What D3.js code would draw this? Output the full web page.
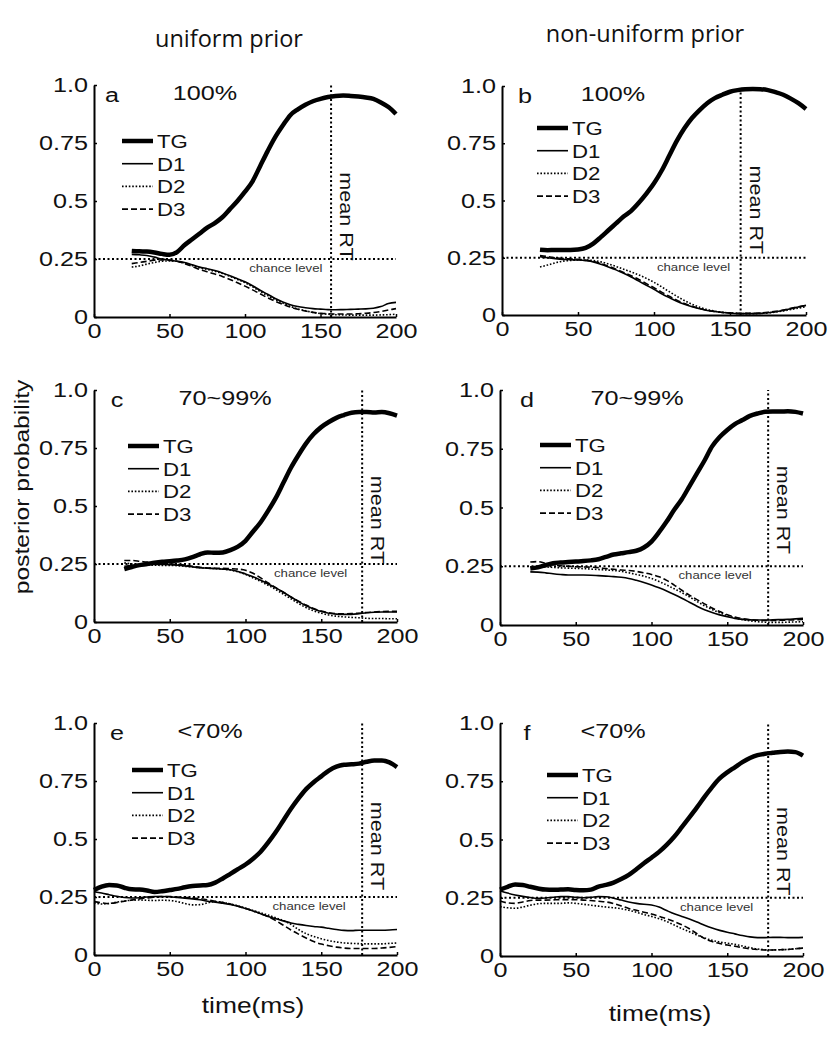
<!DOCTYPE html>
<html><head><meta charset="utf-8">
<script src="https://cdn.jsdelivr.net/npm/d3@7/dist/d3.min.js"></script>
<style>body{margin:0;background:#fff} svg{display:block}</style>
</head><body><svg id="chart" width="837" height="1050"></svg>
<script>
// ---------- data ----------
const timeFrom25 = [25,30,35,40,45,50,55,60,65,70,75,80,85,90,95,100,105,110,115,120,125,130,135,140,145,150,155,160,165,170,175,180,185,190,195,200];
const timeFrom20 = [20,25,30,35,40,45,50,55,60,65,70,75,80,85,90,95,100,105,110,115,120,125,130,135,140,145,150,155,160,165,170,175,180,185,190,195,200];
const timeFrom0  = [0,5,10,15,20,25,30,35,40,45,50,55,60,65,70,75,80,85,90,95,100,105,110,115,120,125,130,135,140,145,150,155,160,165,170,175,180,185,190,195,200];

const seriesNames = ["TG","D1","D2","D3"];
const panelLetters = ["a","b","c","d","e","f"];
const accuracyLabels = ["100%","100%","70~99%","70~99%","<70%","<70%"];
const columnTitles = ["uniform prior","non-uniform prior"];
const meanRT = [157,157,177,177,177,177];
const chanceLevel = 0.25;
const xTicks = [0,50,100,150,200];
const yTicks = [0,0.25,0.5,0.75,1.0];
const yTickLabels = ["0","0.25","0.5","0.75","1.0"];
const yAxisTitle = "posterior probability";
const xAxisTitle = "time(ms)";

// panel a (uniform prior, 100%)
const tgA = [0.285,0.283,0.282,0.278,0.272,0.268,0.28,0.31,0.335,0.36,0.385,0.405,0.43,0.465,0.5,0.54,0.585,0.65,0.715,0.775,0.825,0.87,0.895,0.915,0.93,0.94,0.948,0.953,0.955,0.953,0.95,0.946,0.94,0.925,0.905,0.875];
const d1A = [0.27,0.268,0.265,0.258,0.25,0.245,0.24,0.235,0.225,0.215,0.208,0.2,0.19,0.178,0.165,0.152,0.135,0.115,0.098,0.08,0.065,0.053,0.045,0.04,0.036,0.034,0.032,0.031,0.032,0.033,0.034,0.035,0.038,0.045,0.058,0.063];
const d2A = [0.215,0.22,0.228,0.235,0.24,0.242,0.24,0.232,0.222,0.212,0.205,0.197,0.188,0.175,0.162,0.148,0.13,0.11,0.092,0.075,0.06,0.046,0.035,0.027,0.02,0.015,0.012,0.01,0.009,0.008,0.008,0.008,0.008,0.009,0.01,0.012];
const d3A = [0.23,0.235,0.24,0.245,0.246,0.245,0.24,0.23,0.218,0.205,0.195,0.185,0.175,0.162,0.148,0.133,0.117,0.1,0.083,0.068,0.055,0.043,0.033,0.026,0.02,0.016,0.014,0.013,0.013,0.013,0.014,0.016,0.019,0.024,0.03,0.036];
// panel b (non-uniform prior, 100%)
const tgB = [0.285,0.283,0.284,0.284,0.284,0.286,0.293,0.312,0.34,0.37,0.4,0.43,0.455,0.49,0.53,0.575,0.63,0.695,0.76,0.815,0.86,0.895,0.925,0.947,0.962,0.975,0.982,0.986,0.987,0.986,0.982,0.973,0.962,0.945,0.925,0.9];
const d1B = [0.255,0.25,0.246,0.243,0.242,0.24,0.237,0.232,0.222,0.21,0.197,0.182,0.166,0.148,0.13,0.112,0.093,0.076,0.06,0.047,0.036,0.027,0.02,0.015,0.011,0.008,0.006,0.006,0.006,0.007,0.01,0.014,0.02,0.027,0.035,0.042];
const d2B = [0.21,0.218,0.228,0.235,0.238,0.24,0.24,0.238,0.232,0.223,0.212,0.2,0.188,0.175,0.16,0.143,0.123,0.102,0.082,0.063,0.047,0.034,0.024,0.017,0.012,0.009,0.007,0.006,0.006,0.007,0.009,0.013,0.018,0.024,0.03,0.036];
const d3B = [0.26,0.255,0.25,0.247,0.245,0.243,0.24,0.234,0.225,0.213,0.2,0.186,0.171,0.155,0.137,0.119,0.1,0.082,0.065,0.05,0.038,0.028,0.02,0.015,0.011,0.009,0.007,0.007,0.007,0.009,0.012,0.016,0.022,0.029,0.036,0.042];
// panel c (uniform prior, 70~99%)
const tgC = [0.228,0.237,0.245,0.25,0.256,0.26,0.262,0.265,0.27,0.28,0.292,0.3,0.298,0.3,0.31,0.325,0.35,0.39,0.43,0.48,0.535,0.6,0.665,0.72,0.77,0.81,0.84,0.862,0.88,0.892,0.902,0.905,0.905,0.903,0.905,0.9,0.89];
const d1C = [0.24,0.243,0.245,0.247,0.248,0.248,0.247,0.245,0.242,0.238,0.234,0.232,0.23,0.228,0.225,0.218,0.207,0.195,0.18,0.164,0.147,0.128,0.108,0.088,0.07,0.056,0.045,0.038,0.034,0.033,0.033,0.036,0.04,0.042,0.043,0.043,0.043];
const d2C = [0.255,0.25,0.247,0.245,0.245,0.244,0.244,0.243,0.24,0.237,0.234,0.232,0.23,0.228,0.224,0.216,0.205,0.19,0.175,0.158,0.14,0.12,0.1,0.08,0.062,0.048,0.038,0.03,0.025,0.022,0.02,0.018,0.016,0.015,0.015,0.014,0.014];
const d3C = [0.265,0.265,0.262,0.258,0.255,0.252,0.25,0.248,0.245,0.24,0.236,0.233,0.232,0.232,0.23,0.228,0.223,0.21,0.19,0.168,0.148,0.128,0.108,0.09,0.073,0.058,0.047,0.04,0.036,0.035,0.036,0.038,0.041,0.043,0.045,0.046,0.046];
// panel d (non-uniform prior, 70~99%)
const tgD = [0.24,0.245,0.255,0.263,0.266,0.268,0.27,0.272,0.275,0.28,0.29,0.3,0.305,0.31,0.316,0.33,0.355,0.395,0.44,0.49,0.535,0.59,0.645,0.7,0.76,0.8,0.83,0.855,0.872,0.89,0.9,0.907,0.908,0.908,0.91,0.907,0.9];
const d1D = [0.226,0.225,0.222,0.218,0.215,0.213,0.213,0.213,0.212,0.21,0.208,0.206,0.203,0.198,0.19,0.181,0.17,0.158,0.145,0.13,0.114,0.097,0.08,0.065,0.053,0.043,0.035,0.028,0.024,0.022,0.021,0.021,0.022,0.023,0.024,0.026,0.028];
const d2D = [0.248,0.248,0.247,0.245,0.243,0.242,0.241,0.24,0.238,0.236,0.234,0.232,0.228,0.222,0.215,0.208,0.198,0.185,0.17,0.154,0.138,0.12,0.1,0.082,0.066,0.052,0.04,0.03,0.023,0.018,0.014,0.012,0.011,0.011,0.012,0.013,0.014];
const d3D = [0.268,0.27,0.262,0.256,0.252,0.25,0.248,0.247,0.246,0.244,0.24,0.237,0.234,0.232,0.228,0.222,0.215,0.205,0.19,0.17,0.148,0.127,0.108,0.09,0.072,0.057,0.044,0.034,0.027,0.023,0.02,0.019,0.019,0.02,0.021,0.022,0.024];
// panel e (uniform prior, <70%)
const tgE = [0.28,0.295,0.302,0.3,0.29,0.283,0.282,0.278,0.272,0.275,0.28,0.285,0.292,0.297,0.3,0.302,0.312,0.33,0.35,0.37,0.39,0.415,0.445,0.485,0.53,0.58,0.63,0.675,0.715,0.745,0.77,0.795,0.812,0.82,0.822,0.825,0.833,0.838,0.838,0.83,0.81];
const d1E = [0.273,0.267,0.26,0.253,0.248,0.246,0.247,0.25,0.252,0.252,0.251,0.248,0.245,0.242,0.238,0.232,0.228,0.223,0.218,0.21,0.2,0.19,0.178,0.166,0.156,0.147,0.138,0.132,0.127,0.123,0.12,0.115,0.11,0.106,0.105,0.107,0.107,0.107,0.107,0.108,0.11];
const d2E = [0.225,0.22,0.222,0.228,0.233,0.236,0.237,0.236,0.235,0.236,0.235,0.23,0.222,0.216,0.217,0.225,0.23,0.227,0.22,0.212,0.202,0.192,0.182,0.172,0.16,0.148,0.132,0.11,0.092,0.08,0.07,0.062,0.056,0.052,0.05,0.049,0.048,0.048,0.048,0.05,0.052];
const d3E = [0.23,0.225,0.222,0.226,0.232,0.237,0.242,0.246,0.25,0.252,0.252,0.25,0.248,0.246,0.243,0.238,0.232,0.226,0.22,0.21,0.2,0.19,0.178,0.165,0.148,0.128,0.108,0.09,0.073,0.058,0.047,0.04,0.034,0.03,0.028,0.028,0.028,0.028,0.03,0.033,0.036];
// panel f (non-uniform prior, <70%)
const tgF = [0.285,0.297,0.307,0.305,0.297,0.29,0.285,0.284,0.285,0.286,0.283,0.282,0.285,0.298,0.305,0.315,0.33,0.348,0.372,0.398,0.422,0.447,0.477,0.512,0.553,0.595,0.638,0.683,0.725,0.762,0.788,0.81,0.832,0.85,0.862,0.868,0.872,0.876,0.878,0.875,0.86];
const d1F = [0.28,0.27,0.262,0.256,0.251,0.248,0.249,0.252,0.255,0.255,0.252,0.25,0.252,0.255,0.254,0.248,0.24,0.232,0.226,0.222,0.219,0.21,0.195,0.181,0.17,0.159,0.146,0.132,0.12,0.11,0.102,0.095,0.088,0.082,0.079,0.079,0.08,0.08,0.079,0.079,0.08];
const d2F = [0.212,0.207,0.205,0.21,0.218,0.224,0.226,0.226,0.226,0.228,0.226,0.222,0.218,0.214,0.21,0.207,0.203,0.196,0.188,0.178,0.17,0.16,0.148,0.133,0.118,0.104,0.09,0.077,0.067,0.06,0.055,0.05,0.043,0.036,0.03,0.027,0.026,0.027,0.028,0.031,0.034];
const d3F = [0.236,0.228,0.226,0.232,0.238,0.24,0.24,0.241,0.242,0.242,0.242,0.24,0.238,0.235,0.232,0.225,0.215,0.204,0.196,0.188,0.18,0.17,0.16,0.148,0.134,0.117,0.096,0.075,0.062,0.054,0.047,0.042,0.036,0.031,0.028,0.026,0.026,0.027,0.028,0.031,0.034];

const panelTimes = [timeFrom25, timeFrom25, timeFrom20, timeFrom20, timeFrom0, timeFrom0];
const panelSeries = [[tgA,d1A,d2A,d3A],[tgB,d1B,d2B,d3B],[tgC,d1C,d2C,d3C],[tgD,d1D,d2D,d3D],[tgE,d1E,d2E,d3E],[tgF,d1F,d2F,d3F]];
const chanceLabelTime = [127,126,143,142,142,143];

// ---------- layout (pixels) ----------
const layout = [
  {x0:94,  x1:396, y0:317, y1:85,  letterDx:18, pctDx:111, legDx:28, legDy:56, mrtV:0.433},
  {x0:502, x1:806, y0:315, y1:86,  letterDx:23, pctDx:111, legDx:35, legDy:42, mrtV:0.46},
  {x0:94,  x1:397, y0:622, y1:390, letterDx:23, pctDx:131, legDx:34, legDy:56, mrtV:0.44},
  {x0:500, x1:803, y0:625, y1:390, letterDx:27, pctDx:137, legDx:40, legDy:55, mrtV:0.49},
  {x0:94,  x1:397, y0:955, y1:723, letterDx:23, pctDx:116, legDx:38, legDy:47, mrtV:0.47},
  {x0:500, x1:803, y0:956, y1:723, letterDx:27, pctDx:113, legDx:47, legDy:52, mrtV:0.45}
];
const seriesStyle = [
  {w:4.5, dash:null},
  {w:1.6, dash:null},
  {w:1.6, dash:"1.6,1.8"},
  {w:1.6, dash:"6,3"}
];
const FONT = "'Liberation Sans', Arial, sans-serif";
const SX = 1.2; // the original lettering is wider than Arial

const svg = d3.select("#chart");

function label(parent, x, y, str, size, anchor, rot, family, sx) {
  const r = rot ? ` rotate(${rot})` : "";
  return parent.append("text")
    .attr("transform", `translate(${x},${y})${r} scale(${sx === undefined ? SX : sx},1)`)
    .attr("text-anchor", anchor || "start")
    .attr("font-family", family || FONT).attr("font-size", size).attr("fill", "#111").text(str);
}

panelLetters.forEach((letter, i) => {
  const L = layout[i];
  const x = d3.scaleLinear().domain([0,200]).range([L.x0, L.x1]);
  const y = d3.scaleLinear().domain([0,1]).range([L.y0, L.y1]);
  const g = svg.append("g");

  // axes
  const xAxis = d3.axisBottom(x).tickValues(xTicks).tickFormat(d3.format("d"))
    .tickSizeInner(-3).tickSizeOuter(0).tickPadding(6);
  const yAxis = d3.axisLeft(y).tickValues(yTicks).tickFormat((d,k) => yTickLabels[k])
    .tickSizeInner(-3).tickSizeOuter(0).tickPadding(6);
  const gx = g.append("g").attr("transform", `translate(0,${L.y0})`).call(xAxis);
  const gy = g.append("g").attr("transform", `translate(${L.x0},0)`).call(yAxis);
  [gx, gy].forEach(a => {
    a.select(".domain").attr("stroke","#000").attr("stroke-width",2);
    a.selectAll(".tick line").attr("stroke","#000").attr("stroke-width",1.5);
    a.selectAll("text").attr("font-family",FONT).attr("font-size",21).attr("fill","#111")
      .attr("transform", `scale(${SX},1)`);
  });
  gy.selectAll("text").attr("x", -6 / SX);

  // reference lines
  g.append("line").attr("x1",x(0)).attr("x2",x(200)).attr("y1",y(chanceLevel)).attr("y2",y(chanceLevel))
    .attr("stroke","#000").attr("stroke-width",2).attr("stroke-dasharray","2,2.5");
  g.append("line").attr("x1",x(meanRT[i])).attr("x2",x(meanRT[i])).attr("y1",y(0)).attr("y2",y(1))
    .attr("stroke","#000").attr("stroke-width",2).attr("stroke-dasharray","2,2.5");

  // series
  const times = panelTimes[i];
  const line = d3.line().x(d => x(d[0])).y(d => y(d[1])).curve(d3.curveMonotoneX);
  [3,2,1,0].forEach(s => {
    const vals = panelSeries[i][s];
    const pts = times.map((t,k) => [t, vals[k]]);
    const p = g.append("path").datum(pts).attr("d", line).attr("fill","none")
      .attr("stroke","#000").attr("stroke-width", seriesStyle[s].w)
      .attr("stroke-linejoin","round");
    if (seriesStyle[s].dash) p.attr("stroke-dasharray", seriesStyle[s].dash);
  });

  // labels
  label(g, L.x0 + L.letterDx, y(1) + 17, letter, 21, "middle");
  label(g, L.x0 + L.pctDx, y(1) + 15, accuracyLabels[i], 21, "middle");
  label(g, x(meanRT[i]) + 9, y(L.mrtV), "mean RT", 18, "middle", 90);
  const cl = label(g, x(chanceLabelTime[i]), y(chanceLevel) + 13, "chance level", 11, "middle");
  cl.attr("fill","#333");

  // legend
  const lg = g.append("g").attr("transform", `translate(${L.x0 + L.legDx},${y(1) + L.legDy})`);
  seriesNames.forEach((name, s) => {
    const yy = s * 22.7;
    const ln = lg.append("line").attr("x1",0).attr("x2",31).attr("y1",yy).attr("y2",yy)
      .attr("stroke","#000").attr("stroke-width", seriesStyle[s].w);
    if (seriesStyle[s].dash) ln.attr("stroke-dasharray", seriesStyle[s].dash);
    label(lg, 35, yy + 7, name, 18.5, "start");
  });
});

// column titles
label(svg, 229, 47, columnTitles[0], 23.5, "middle", 0, "'Open Sans', sans-serif", 1);
label(svg, 645, 42, columnTitles[1], 23.5, "middle", 0, "'Open Sans', sans-serif", 1);

// axis titles
label(svg, 29, 487, yAxisTitle, 20.5, "middle", -90);
label(svg, 253, 1013, xAxisTitle, 22, "middle");
label(svg, 660, 1021, xAxisTitle, 22, "middle");
</script>
</body></html>
